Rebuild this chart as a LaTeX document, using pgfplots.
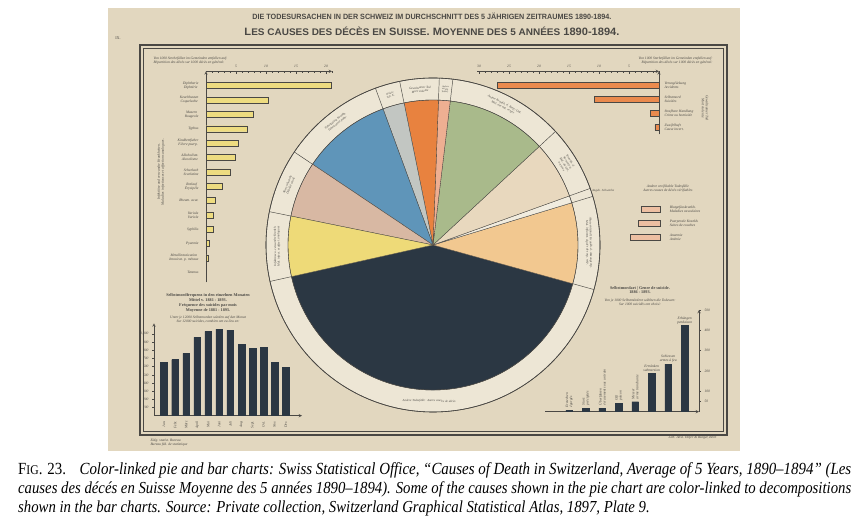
\documentclass[border=0pt]{standalone}
\usepackage{pgfplots}
\pgfplotsset{compat=1.18}
\usepackage{fontspec}
\setmainfont{Liberation Serif}
\newfontfamily\titlefont{Liberation Sans}
\usepackage{graphicx}

\definecolor{plate}{HTML}{E2D7BF}
\definecolor{pline}{HTML}{4A4844}
\definecolor{pring}{HTML}{EDE6D5}
\definecolor{pnavy}{HTML}{2B3743}
\definecolor{plorange}{HTML}{F2C890}
\definecolor{pwhite}{HTML}{F1ECDF}
\definecolor{pbeige}{HTML}{E8D8BE}
\definecolor{pgreen}{HTML}{A9BA8B}
\definecolor{psalmon}{HTML}{EEAF92}
\definecolor{porange}{HTML}{E8823F}
\definecolor{pgrey}{HTML}{C2C6C2}
\definecolor{pblue}{HTML}{5F95B9}
\definecolor{ppink}{HTML}{D8B8A3}
\definecolor{pyellow}{HTML}{EEDA78}
\definecolor{ybar}{HTML}{EEDC80}
\definecolor{obar}{HTML}{EA8A4E}
\definecolor{sbar}{HTML}{EDBFA2}

\newcommand\tf{\fontsize{3.6}{4}\selectfont\itshape}
\newcommand\rf{\fontsize{3.1}{3.5}\selectfont\itshape}
\newcommand\tfu{\fontsize{4.2}{4.8}\selectfont}

\pgfplotsset{
  small chart/.style={
    scale only axis, clip=false,
    axis line style={-, draw=pline, line width=0.5pt},
    tick style={draw=pline, line width=0.4pt},
    ticklabel style={font=\tf, text=pline},
    /pgf/number format/assume math mode=true,
  },
}

\newsavebox\capA
\newsavebox\capB
\newdimen\capw

\begin{document}%
\sbox\capA{\fontsize{14}{16}\selectfont F\scalebox{0.78}{IG}. 23.\hspace{0.9em}\itshape Color-linked pie and bar charts: Swiss Statistical Office, “Causes of Death in Switzerland, Average of 5 Years, 1890–1894” (Les}%
\sbox\capB{\fontsize{14}{16}\selectfont\itshape causes des décés en Suisse Moyenne des 5 années 1890–1894). Some of the causes shown in the pie chart are color-linked to decompositions}%
\capw=\wd\capA\relax%
\pgfmathsetmacro\capsA{833pt/\capw}%
\pgfmathsetmacro\capvA{\capsA*1.14}%
\capw=\wd\capB\relax%
\pgfmathsetmacro\capsB{833pt/\capw}%
\pgfmathsetmacro\capvB{\capsB*1.14}%
\begin{tikzpicture}
\begin{scope}[x=1pt,y=1pt]
\useasboundingbox (0,0) rectangle (858,529);
\fill[white] (0,0) rectangle (858,529);
% plate
\fill[plate] (108,{529-8}) rectangle (740,{529-451});
\draw[pline, line width=1.1pt] (140,{529-45}) rectangle (727,{529-435});
\draw[pline, line width=0.4pt] (143.5,{529-48.5}) rectangle (723.5,{529-431.5});
% titles
\node[text=pline] at (432,{529-16}) {\resizebox{359pt}{6.5pt}{\titlefont\bfseries DIE TODESURSACHEN IN DER SCHWEIZ IM DURCHSCHNITT DES 5 JÄHRIGEN ZEITRAUMES 1890-1894.}};
\node[text=pline] at (432,{529-31}) {\resizebox{375pt}{8.5pt}{\titlefont\bfseries L{\small ES CAUSES DES DÉCÈS EN} S{\small UISSE}. M{\small OYENNE DES 5 ANNÉES} 1890-1894.}};
\node[text=pline, font=\tfu] at (118,{529-38}) {IX.};
% headers
\node[text=pline, font=\tf, align=left, anchor=west] at (150,{529-61}) {Von 1000 Sterbefällen im Gemeinden entfallen auf:\\Répartition des décès sur 1000 décès en général:};
\node[text=pline, font=\tf, align=right, anchor=east] at (716,{529-61}) {Von 1000 Sterbefällen im Gemeinden entfallen auf:\\Répartition des décès sur 1000 décès en général:};
\node[text=pline, font=\tf, rotate=90, align=center] at (161,{529-172}) {Infektiöse und verwandte Krankheiten.\\Maladies infectieuses et affections analogues.};
\node[text=pline, font=\tf, rotate=-90, align=center] at (705,{529-108}) {Gewaltsamer Tod\\Mort violente};
\node[text=pline, font=\tf, align=center] at (668,{529-189}) {Andere verifikable Todesfälle\\Autres causes de décès vérifiables};
% bottom chart titles
\node[text=pline, font=\tfu, align=center] at (208,{529-303}) {\bfseries Selbstmordfrequenz in den einzelnen Monaten\\\bfseries Mittel v. 1881 - 1893.\\\bfseries Fréquence des suicides par mois\\\bfseries Moyenne de 1881 - 1893.};
\node[text=pline, font=\tf, align=center] at (208,{529-320}) {Unter je 12000 Selbstmorden würden auf den Monat\\Sur 12000 suicides, combien ont eu lieu en:};
\node[text=pline, font=\tfu, align=center] at (640,{529-290}) {\bfseries Selbstmordart \textbar\ Genre de suicide.\\\bfseries 1886 - 1893.};
\node[text=pline, font=\tf, align=center] at (640,{529-302}) {Von je 1000 Selbstmördern wählten die Todesart:\\Sur 1000 suicidés ont choisi:};
\node[text=pline, font=\tf, align=left, anchor=west] at (147,{529-443}) {Eidg. statist. Bureau\\Bureau féd. de statistique};
\node[text=pline, font=\tf, anchor=east] at (720,{529-438}) {Lith. Anst. Hofer \& Burger, Bern};
% caption
\node[anchor=base west, inner sep=0] at (18,{529-475}) {\scalebox{\capsA}[\capvA]{\usebox\capA}};
\node[anchor=base west, inner sep=0] at (18,{529-494}) {\scalebox{\capsB}[\capvB]{\usebox\capB}};
\node[anchor=base west, inner sep=0] at (18,{529-513}) {\scalebox{\capsB}[\capvB]{\fontsize{14}{16}\selectfont\itshape shown in the bar charts. Source: Private collection, Switzerland Graphical Statistical Atlas, 1897, Plate 9.}};
\end{scope}

% ---------------- pie chart ----------------
\begin{axis}[hide axis, x=1pt, y=1pt, xmin=-170, xmax=170, ymin=-170, ymax=170,
  at={(433pt,284pt)}, anchor=center, clip=false]
\addplot[draw=none] coordinates {(0,0)};
\fill[pring, draw=pline, line width=0.6pt] (axis cs:0,0) circle[radius=167pt];
\def\acc{192.6}
% shares in percent, counter-clockwise from the left edge of the dark wedge
\foreach \v/\col in {42.2/pnavy, 9.0/plorange, 0.8/pwhite, 6.4/pbeige, 11.2/pgreen,
                     1.3/psalmon, 3.8/porange, 2.4/pgrey, 10.0/pblue, 6.2/ppink, 6.7/pyellow}{
  \pgfmathsetmacro\angA{\acc}
  \pgfmathsetmacro\angB{\acc+3.6*\v}
  \edef\tmp{\noexpand\fill[fill=\col, draw=pline, line width=0.35pt] (axis cs:0,0) -- (axis cs:{145*cos(\angA)},{145*sin(\angA)}) arc[start angle=\angA, end angle=\angB, radius=145pt] -- cycle;
    \noexpand\draw[pline, line width=0.45pt] (axis cs:{145*cos(\angA)},{145*sin(\angA)}) -- (axis cs:{167*cos(\angA)},{167*sin(\angA)});}
  \tmp
  \xdef\acc{\angB}
}
\draw[pline, line width=0.6pt] (axis cs:0,0) circle[radius=167pt];
\draw[pline, line width=0.4pt] (axis cs:0,0) circle[radius=145pt];
\begin{scope}[every node/.style={text=pline, font=\rf, align=center, inner sep=0}]
\node[rotate=-1.4] at (axis cs:{156*cos(268.6)},{156*sin(268.6)}) {Andere Todesfälle \textperiodcentered\ Autres causes de décès};
\node[rotate=-89.2] at (axis cs:{156*cos(0.8)},{156*sin(0.8)}) {Akute entzündl. Krankh. d. Atmungsorg.\\Mal. inflamm. aiguës des org. resp.};
\node[rotate=-58.6] at (axis cs:{156*cos(31.4)},{156*sin(31.4)}) {Krankh. d.\\Nervensyst.\\Mal. du syst.\\nerveux};
\node[rotate=-27] at (axis cs:{156*cos(63)},{156*sin(63)}) {Andere Krankh. d. Resp.-Org.\\Mal. des org. respir.};
\node[rotate=-4.5, font=\fontsize{2.4}{2.7}\selectfont\itshape] at (axis cs:{156*cos(85.5)},{156*sin(85.5)}) {Andere\\verifik.\\Todesf.};
\node[rotate=4.8] at (axis cs:{156*cos(94.8)},{156*sin(94.8)}) {Gewaltsamer Tod\\Mort violente};
\node[rotate=15.9, font=\fontsize{2.7}{3.1}\selectfont\itshape] at (axis cs:{156*cos(105.9)},{156*sin(105.9)}) {Andere\\Tub. K.};
\node[rotate=38.2] at (axis cs:{156*cos(128.2)},{156*sin(128.2)}) {Tuberkulöse Krankh.\\Tuberculose pulm.};
\node[rotate=67.4] at (axis cs:{156*cos(157.4)},{156*sin(157.4)}) {Altersschwäche\\Débilité sénile};
\node[rotate=90.5] at (axis cs:{156*cos(180.5)},{156*sin(180.5)}) {Infektiöse u. verwandte Krankh.\\Mal. infect. et affect. analogues};
\node[anchor=west] at (axis cs:{168*cos(19)},{168*sin(19)}) {Angeb. Schwäche};
\end{scope}
\end{axis}

% ---------------- left: infectious diseases ----------------
\begin{axis}[small chart, width=126pt, height=211pt, at={(206pt,246.7pt)}, anchor=south west,
  xmin=0, xmax=21, ymin=-14.7, ymax=0,
  axis x line=top, axis y line=left,
  xbar, bar width=6pt, bar shift=0pt,
  xtick={5,10,15,20}, minor xtick={1,...,21}, tick align=inside,
  major tick length=3pt, minor tick length=2pt,
  ytick={-1,-2,...,-14}, y tick style={draw=none},
  yticklabel style={align=center, xshift=-4pt},
  yticklabels={{Diphtherie\\Diphtérie},{Keuchhusten\\Coqueluche},{Masern\\Rougeole},{Typhus},
    {Kindbettfieber\\Fièvre puerp.},{Alkoholism.\\Alcoolisme},{Scharlach\\Scarlatine},
    {Rotlauf\\Érysipèle},{Rheum. acut.},{Variola\\Variole},{Syphilis},{Pyaemie},
    {Metallintoxication\\Intoxicat. p. métaux},{Tetanus}}]
\addplot[fill=ybar, draw=pline, line width=0.4pt] coordinates {
  (20.8,-1) (10.4,-2) (7.8,-3) (6.9,-4) (5.4,-5) (4.9,-6) (4.1,-7)
  (2.7,-8) (1.6,-9) (1.2,-10) (1.2,-11) (0.6,-12) (0.3,-13) (0.1,-14)};
\end{axis}

% ---------------- right: violent death ----------------
\begin{axis}[small chart, width=181.8pt, height=63pt, at={(477.2pt,394.7pt)}, anchor=south west,
  xmin=-30.3, xmax=0, ymin=-4.5, ymax=0,
  axis x line=top, axis y line=right,
  xbar, bar width=6pt, bar shift=0pt,
  xtick={-30,-25,-20,-15,-10,-5}, xticklabels={30,25,20,15,10,5},
  minor xtick={-30,-29,...,0}, tick align=inside,
  major tick length=3pt, minor tick length=2pt,
  ytick={-1,-2,-3,-4}, y tick style={draw=none},
  yticklabel style={align=left, xshift=2pt},
  yticklabels={{Verunglückung\\Accidents},{Selbstmord\\Suicides},{Strafbare Handlung\\Crime ou homicide},{Zweifelhaft\\Cause incert.}}]
\addplot[fill=obar, draw=pline, line width=0.4pt] coordinates {
  (-27.0,-1) (-10.8,-2) (-1.4,-3) (-0.7,-4)};
\end{axis}

% ---------------- right middle: other verifiable causes ----------------
\begin{axis}[small chart, width=36pt, height=50.8pt, at={(624pt,283.3pt)}, anchor=south west,
  xmin=-6, xmax=0, ymin=-3.6, ymax=0,
  axis x line=none, axis y line=right, y axis line style={draw=none},
  xbar, bar width=6pt, bar shift=0pt,
  ytick={-1,-2,-3}, y tick style={draw=none},
  yticklabel style={align=left, xshift=2pt},
  yticklabels={{Blutgefässkrankh.\\Maladies vasculaires},{Puerperale Krankh.\\Suites de couches},{Anaemie\\Anémie}}]
\addplot[fill=sbar, draw=pline, line width=0.4pt] coordinates {
  (-3.2,-1) (-3.6,-2) (-4.9,-3)};
\end{axis}

% ---------------- bottom left: suicides per month ----------------
\begin{axis}[small chart, width=148pt, height=92.3pt, at={(154pt,113.3pt)}, anchor=south west,
  xmin=0.096, xmax=13.48, ymin=0, ymax=1130,
  axis x line=bottom, axis y line=left,
  ybar, bar width=6.7pt, bar shift=0pt,
  xtick={1,...,12}, x tick style={draw=none},
  xticklabels={Jan.,Febr.,März,April,Mai,Juni,Juli,Aug.,Sept.,Oct.,Nov.,Dec.},
  xticklabel style={rotate=90, anchor=east},
  ytick={100,200,...,1000}, tick align=outside, major tick length=2pt]
\addplot[fill=pnavy, draw=pnavy] coordinates {
  (1,657) (2,686) (3,763) (4,959) (5,1033) (6,1061)
  (7,1049) (8,873) (9,824) (10,833) (11,657) (12,592)};
\end{axis}

% ---------------- bottom right: kind of suicide ----------------
\begin{axis}[small chart, width=154pt, height=101.7pt, at={(545pt,117.3pt)}, anchor=south west,
  xmin=-0.47, xmax=8.87, ymin=0, ymax=500,
  axis x line=bottom, axis y line=right,
  ybar, bar width=6.7pt, bar shift=0pt,
  xtick=\empty, ytick={50,100,200,300,400,500}, tick align=outside, major tick length=2pt]
\addplot[fill=pnavy, draw=pnavy] coordinates {
  (1,8) (2,18) (3,18) (4,41) (5,49) (6,189) (7,234) (8,423)};
\begin{scope}[every node/.style={text=pline, font=\tf, inner sep=0}]
\node[rotate=90, anchor=west, align=left] at (axis cs:1,20) {Erstechen\\égorgés};
\node[rotate=90, anchor=west, align=left] at (axis cs:2,30) {Sturz\\précipités};
\node[rotate=90, anchor=west, align=left] at (axis cs:3,30) {Überfahren\\écrasement sous un train};
\node[rotate=90, anchor=west, align=left] at (axis cs:4,53) {Gift\\poison};
\node[rotate=90, anchor=west, align=left] at (axis cs:5,61) {Messer\\arme tranchante};
\node[anchor=south, align=center] at (axis cs:6,196) {Ertränken\\submersion};
\node[anchor=south, align=center] at (axis cs:7,241) {Schiessen\\armes à feu};
\node[anchor=south, align=center] at (axis cs:8,430) {Erhängen\\pendaison};
\end{scope}
\end{axis}
\end{tikzpicture}%
\end{document}
